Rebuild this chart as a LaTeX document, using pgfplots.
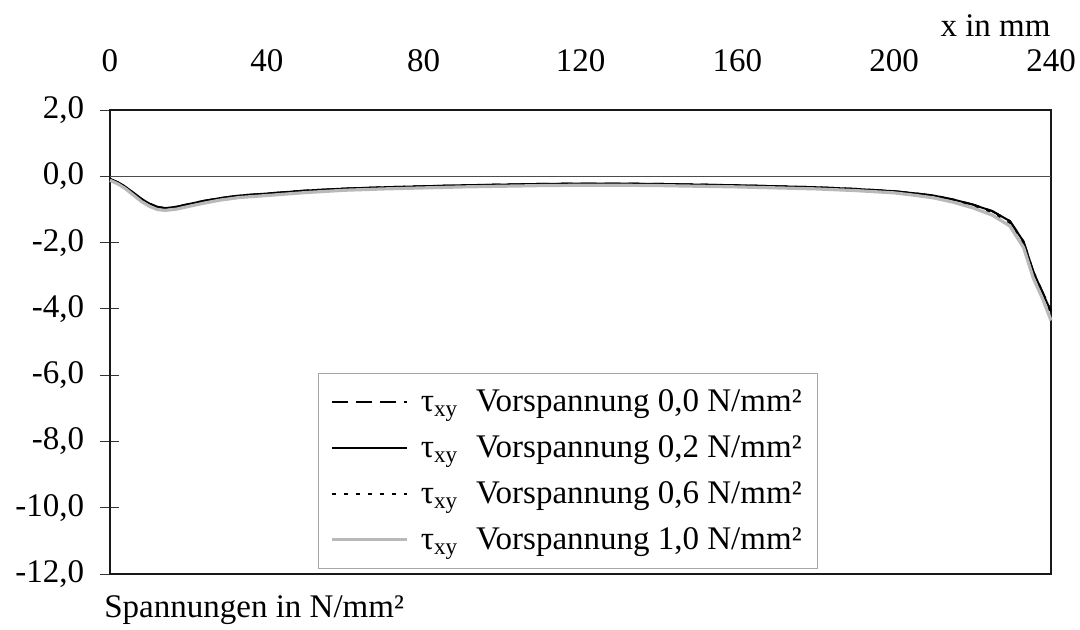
\documentclass[border=0pt]{standalone}
\usepackage{fontspec}
\setmainfont{Liberation Serif}
\usepackage{pgfplots}
\pgfplotsset{compat=1.18}
\begin{document}
\begin{tikzpicture}[font=\fontsize{16.5}{19.8}\selectfont]
\useasboundingbox (-55pt,-27.5pt) rectangle (485pt,287pt);
\begin{axis}[
  at={(0,0)}, anchor=south west,
  scale only axis, width=470.5pt, height=232pt,
  xmin=0, xmax=240, ymin=-12, ymax=2,
  clip=false,
  axis line style={line width=1.2pt, black!90},
  xtick={0,40,80,120,160,200,240},
  xticklabels={0,40,80,120,160,200,240},
  xticklabel pos=upper,
  xtick align=inside,
  xtick style={draw=none},
  xticklabel style={anchor=base, yshift=19.5pt},
  ytick={-12,-10,-8,-6,-4,-2,0,2},
  yticklabels={{-12,0},{-10,0},{-8,0},{-6,0},{-4,0},{-2,0},{0,0},{2,0}},
  ytick align=center, ytick pos=left,
  major tick length=9.5pt,
  ytick style={line width=0.5pt, black!80},
  yticklabel style={anchor=east, inner sep=0pt, xshift=-8pt},
  legend style={at={(rel axis cs:0.221,0.011)}, anchor=south west,
    draw=gray!70, line width=0.6pt, fill=white,
    inner xsep=6pt, inner ysep=6pt, row sep=6.5pt, column sep=4pt,
    nodes={inner sep=2pt}, font=\fontsize{16.5}{19.8}\selectfont},
  legend cell align=left,
  legend image code/.code={\draw[#1] (0pt,0pt) -- (37.5pt,0pt);},
]
\draw[black!70, line width=0.6pt] (axis cs:0,0) -- (axis cs:240,0);
\draw[black!80, line width=0.6pt] (axis cs:40,0) ++(0,-5pt) -- ++(0,10pt);
\draw[black!80, line width=0.6pt] (axis cs:80,0) ++(0,-5pt) -- ++(0,10pt);
\draw[black!80, line width=0.6pt] (axis cs:120,0) ++(0,-5pt) -- ++(0,10pt);
\draw[black!80, line width=0.6pt] (axis cs:160,0) ++(0,-5pt) -- ++(0,10pt);
\draw[black!80, line width=0.6pt] (axis cs:200,0) ++(0,-5pt) -- ++(0,10pt);

% 0,0 N/mm2 (dashed)
\addplot[black, line width=1pt, dash pattern=on 8pt off 4pt] coordinates {
(0,-0.08) (2,-0.18) (4,-0.32) (6,-0.50) (8,-0.68) (10,-0.82) (12,-0.92) (14,-0.96)
(17,-0.92) (20,-0.84) (24,-0.74) (28,-0.66) (33,-0.58) (40,-0.52) (50,-0.43)
(60,-0.37) (70,-0.33) (80,-0.30) (90,-0.27) (100,-0.25) (110,-0.23) (120,-0.22)
(130,-0.22) (140,-0.23) (150,-0.25) (160,-0.27) (170,-0.30) (180,-0.33) (190,-0.38)
(200,-0.45) (205,-0.51) (210,-0.58) (215,-0.70) (220,-0.85) (225,-1.05) (229.5,-1.35)
(233,-1.97) (235.5,-2.88) (237.8,-3.48) (240,-4.06)};
\addlegendentry{τ\textsubscript{xy}\hspace{9pt}Vorspannung 0,0 N/mm²}
% 0,2 N/mm2 (solid)
\addplot[black, line width=1pt] coordinates {
(0,-0.08) (2,-0.18) (4,-0.32) (6,-0.50) (8,-0.68) (10,-0.82) (12,-0.92) (14,-0.96)
(17,-0.92) (20,-0.84) (24,-0.74) (28,-0.66) (33,-0.58) (40,-0.52) (50,-0.43)
(60,-0.37) (70,-0.33) (80,-0.30) (90,-0.27) (100,-0.25) (110,-0.23) (120,-0.22)
(130,-0.22) (140,-0.23) (150,-0.25) (160,-0.27) (170,-0.30) (180,-0.33) (190,-0.38)
(200,-0.45) (205,-0.51) (210,-0.58) (215,-0.70) (220,-0.85) (225,-1.05) (229.5,-1.35)
(233,-1.97) (235.5,-2.88) (237.8,-3.50) (240,-4.08)};
\addlegendentry{τ\textsubscript{xy}\hspace{9pt}Vorspannung 0,2 N/mm²}
% 0,6 N/mm2 (dotted)
\addplot[black, line width=0.8pt, dash pattern=on 2pt off 4pt] coordinates {
(0,-0.09) (2,-0.19) (4,-0.33) (6,-0.52) (8,-0.70) (10,-0.84) (12,-0.94) (14,-0.98)
(17,-0.94) (20,-0.86) (24,-0.76) (28,-0.68) (33,-0.60) (40,-0.54) (50,-0.45)
(60,-0.39) (70,-0.35) (80,-0.32) (90,-0.29) (100,-0.27) (110,-0.25) (120,-0.24)
(130,-0.24) (140,-0.25) (150,-0.27) (160,-0.29) (170,-0.32) (180,-0.35) (190,-0.40)
(200,-0.47) (205,-0.53) (210,-0.61) (215,-0.73) (220,-0.89) (225,-1.10) (229.5,-1.41)
(233,-2.05) (235.5,-2.98) (237.8,-3.58) (240,-4.20)};
\addlegendentry{τ\textsubscript{xy}\hspace{9pt}Vorspannung 0,6 N/mm²}
% 1,0 N/mm2 (gray)
\addplot[gray!55, line width=1.6pt] coordinates {
(0,-0.12) (2,-0.23) (4,-0.38) (6,-0.57) (8,-0.76) (10,-0.90) (12,-1.00) (14,-1.03)
(17,-0.99) (20,-0.91) (24,-0.81) (28,-0.72) (33,-0.64) (40,-0.58) (50,-0.49)
(60,-0.42) (70,-0.38) (80,-0.35) (90,-0.32) (100,-0.30) (110,-0.28) (120,-0.27)
(130,-0.27) (140,-0.28) (150,-0.30) (160,-0.32) (170,-0.35) (180,-0.38) (190,-0.43)
(200,-0.50) (205,-0.57) (210,-0.65) (215,-0.78) (220,-0.95) (225,-1.17) (229.5,-1.50)
(233,-2.15) (235.5,-3.08) (237.8,-3.68) (240,-4.35)};
\addlegendentry{τ\textsubscript{xy}\hspace{9pt}Vorspannung 1,0 N/mm²}

\node[anchor=base east, inner sep=0pt] at (rel axis cs:1,1) [yshift=37pt] {x in mm};
\node[anchor=base west, inner sep=0pt] at (rel axis cs:0,0) [yshift=-21.5pt, xshift=-3pt] {Spannungen in N/mm²};
\end{axis}
\end{tikzpicture}
\end{document}
